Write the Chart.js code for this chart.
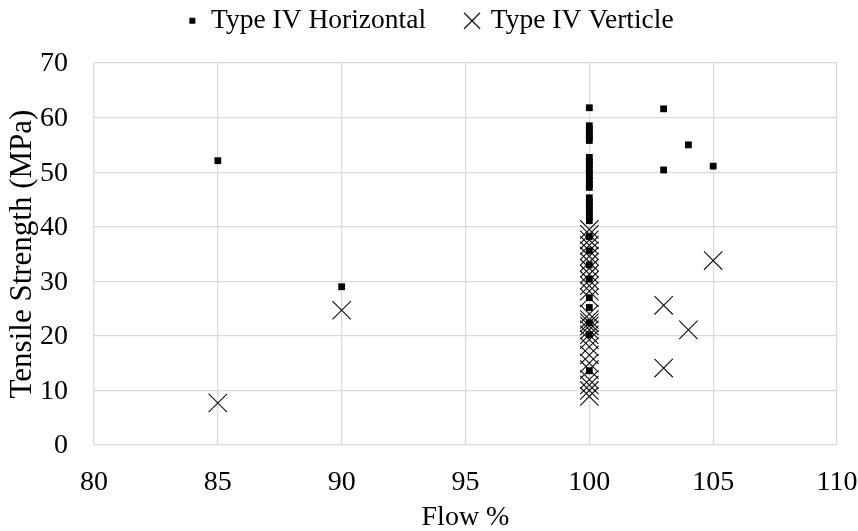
<!DOCTYPE html>
<html>
<head>
<meta charset="utf-8">
<script src="https://cdn.jsdelivr.net/npm/chart.js@4.4.1/dist/chart.umd.min.js"></script>
<style>
  html, body { margin: 0; padding: 0; background: #fff; }
  #wrap { width: 858px; height: 531px; }
</style>
</head>
<body>
<div id="wrap"><canvas id="chart" width="858" height="531"></canvas></div>
<script>
// Données
const horizontalX = [85, 90,
    100, 100, 100, 100, 100, 100, 100, 100, 100, 100, 100, 100, 100, 100, 100,
    100, 100, 100, 100, 100, 100, 100, 100, 100, 100, 100, 100, 100, 100, 100, 100,
    103, 103, 104, 105];
const horizontalY = [52.1, 29.0,
    61.8, 58.5, 57.8, 57.1, 56.4, 55.8, 52.7, 52.0, 51.3, 50.6, 49.9, 49.2, 48.5, 47.8, 47.2,
    45.3, 44.6, 43.9, 43.2, 42.5, 41.8, 41.1, 38.2, 35.6, 33.0, 30.4, 27.0, 25.2, 22.4, 20.2, 13.6,
    61.6, 50.4, 55.0, 51.1];

const verticleX = [85, 90,
    100, 100, 100, 100, 100, 100, 100, 100, 100, 100, 100, 100, 100, 100, 100,
    100, 100, 100, 100, 100, 100, 100, 100, 100, 100, 100, 100, 100,
    103, 103, 104, 105];
const verticleY = [7.7, 24.7,
    39.5, 38.6, 37.6, 36.6, 35.6, 34.6, 33.5, 32.4, 31.3, 30.2, 29.2, 28.2, 27.0, 24.0, 23.0,
    22.4, 21.8, 21.1, 20.2, 19.3, 18.0, 16.5, 15.0, 13.8, 12.0, 11.0, 10.0, 8.9,
    25.6, 14.1, 21.1, 33.8];

const xTicks = [80, 85, 90, 95, 100, 105, 110];
const yTicks = [0, 10, 20, 30, 40, 50, 60, 70];

const seriesNames = ['Type IV Horizontal', 'Type IV Verticle'];
const fontFamily = '"Liberation Serif", "Times New Roman", serif';

function toPoints(xs, ys) {
    return xs.map((x, i) => ({ x: x, y: ys[i] }));
}

// Petits marqueurs pour la légende
function legendMarker(kind) {
    const c = document.createElement('canvas');
    c.width = 18; c.height = 18;
    const g = c.getContext('2d');
    g.strokeStyle = '#000';
    g.fillStyle = '#000';
    if (kind === 'rect') {
        g.fillRect(6, 6, 6, 6);
    } else {
        g.lineWidth = 1.2;
        g.beginPath();
        g.moveTo(1, 1); g.lineTo(17, 17);
        g.moveTo(17, 1); g.lineTo(1, 17);
        g.stroke();
    }
    return c;
}

const markers = [legendMarker('rect'), legendMarker('cross')];

// Hauteur fixe de la légende + petit décalage horizontal
const legendHeight = {
    id: 'legendHeight',
    beforeInit(chart) {
        const lg = chart.legend;
        if (!lg) return;
        const fit = lg.fit;
        lg.fit = function () {
            fit.call(this);
            this.height = 97;
        };
        const draw = lg.draw;
        lg.draw = function () {
            const ctx = this.ctx;
            ctx.save();
            ctx.translate(12, 0);
            draw.call(this);
            ctx.restore();
        };
    }
};

new Chart(document.getElementById('chart'), {
    type: 'scatter',
    data: {
        datasets: [{
            label: seriesNames[0],
            data: toPoints(horizontalX, horizontalY),
            pointStyle: 'rect',
            pointRadius: 4.8,
            pointBackgroundColor: '#000',
            pointBorderColor: '#000',
            pointBorderWidth: 0
        }, {
            label: seriesNames[1],
            data: toPoints(verticleX, verticleY),
            pointStyle: 'crossRot',
            pointRadius: 13,
            pointBorderColor: '#111',
            pointBorderWidth: 1.1
        }]
    },
    plugins: [legendHeight],
    options: {
        responsive: false,
        animation: false,
        layout: { padding: { left: 0, right: 21, top: -34, bottom: 0 } },
        plugins: {
            tooltip: { enabled: false },
            legend: {
                position: 'top',
                labels: {
                    font: { family: fontFamily, size: 27.5 },
                    color: '#000',
                    usePointStyle: true,
                    pointStyleWidth: 10,
                    padding: 41,
                    generateLabels: (chart) => chart.data.datasets.map((ds, i) => ({
                        text: ds.label,
                        pointStyle: markers[i],
                        fillStyle: '#000',
                        strokeStyle: '#000',
                        fontColor: '#000',
                        datasetIndex: i,
                        hidden: false
                    }))
                }
            }
        },
        scales: {
            x: {
                type: 'linear',
                min: 80,
                max: 110,
                afterBuildTicks: (axis) => { axis.ticks = xTicks.map(v => ({ value: v })); },
                afterFit: (axis) => { axis.height = 86; axis.paddingRight = 0; },
                grid: { color: '#d9d9d9', lineWidth: 1.2, drawTicks: false },
                border: { display: false },
                ticks: { font: { family: fontFamily, size: 28 }, color: '#000', padding: 21 },
                title: { display: true, text: 'Flow %', font: { family: fontFamily, size: 28 }, color: '#000', padding: { top: 0, bottom: -3 } }
            },
            y: {
                type: 'linear',
                min: 0,
                max: 70,
                afterBuildTicks: (axis) => { axis.ticks = yTicks.map(v => ({ value: v })); },
                afterFit: (axis) => { axis.width = 94; },
                grid: { color: '#d9d9d9', lineWidth: 1.2, drawTicks: false },
                border: { display: false },
                ticks: { font: { family: fontFamily, size: 28 }, color: '#000', padding: 26, labelOffset: 1 },
                title: { display: true, text: 'Tensile Strength (MPa)', font: { family: fontFamily, size: 31 }, color: '#000', padding: { top: 4, bottom: 0 } }
            }
        }
    }
});
</script>
</body>
</html>
